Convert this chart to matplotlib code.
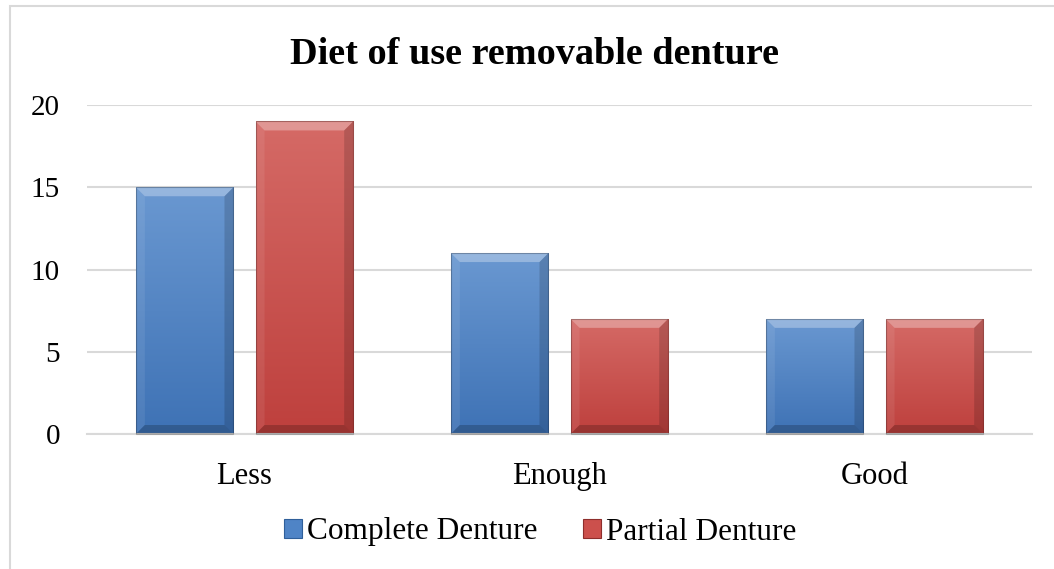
import matplotlib
matplotlib.use('Agg')
import matplotlib.pyplot as plt
import numpy as np
from matplotlib.patches import Polygon, Rectangle
from matplotlib.transforms import IdentityTransform
from matplotlib.colors import LinearSegmentedColormap

categories = ['Less', 'Enough', 'Good']
complete_denture = [15, 11, 7]
partial_denture = [19, 7, 7]
series_names = ['Complete Denture', 'Partial Denture']
y_ticks = [0, 5, 10, 15, 20]

plt.rcParams['font.family'] = ['Liberation Serif', 'DejaVu Serif']

blue_top, blue_bot = '#6a98d1', '#3e72b5'
red_top, red_bot = '#d56a66', '#be403d'

fig = plt.figure(figsize=(10.54, 5.69), dpi=100)
ax = fig.add_axes([87 / 1054, 1 - 434 / 569, (1032 - 87) / 1054, (434 - 105) / 569])

# chart frame (only left/top edges are inside the picture)
fig.patches.append(Rectangle((10 / 1054, -0.1), 1.2, 1.1 - 6 / 569, transform=fig.transFigure,
                             fill=False, edgecolor='#d9d9d9', linewidth=1.5, zorder=0))

x = np.arange(len(categories))
width = 0.31
offset = 0.19

bars_c = ax.bar(x - offset, complete_denture, width, color=blue_bot, edgecolor='none', zorder=2)
bars_p = ax.bar(x + offset, partial_denture, width, color=red_bot, edgecolor='none', zorder=2)

ax.set_xlim(-0.5, 2.5)
ax.set_ylim(0, 20)
ax.set_yticks(y_ticks)
ax.set_xticks(x)
ax.set_xticklabels(categories)
ax.tick_params(axis='both', length=0)
ax.tick_params(axis='y', pad=19.5, labelsize=21)
ax.tick_params(axis='x', pad=20, labelsize=22)
ax.grid(axis='y', color='#d9d9d9', linewidth=1.5, zorder=0)
ax.set_axisbelow(True)
for s in ['left', 'right', 'top']:
    ax.spines[s].set_visible(False)
ax.spines['bottom'].set_color('#d9d9d9')
ax.spines['bottom'].set_linewidth(1.5)


def bevel(bar, top, bot, b=9):
    # vertical gradient fill clipped to the bar
    cmap = LinearSegmentedColormap.from_list('g', [bot, top])
    x0, y0 = bar.get_x(), bar.get_y()
    w, h = bar.get_width(), bar.get_height()
    grad = np.linspace(0, 1, 256).reshape(-1, 1)
    im = ax.imshow(grad, cmap=cmap, aspect='auto', origin='lower',
                   extent=[x0, x0 + w, y0, y0 + h], zorder=2.5)
    im.set_clip_path(bar)
    # bevel edges in pixel space
    (px0, py0), (px1, py1) = ax.transData.transform([(x0, y0), (x0 + w, y0 + h)])
    faces = [
        ([(px0, py1), (px1, py1), (px1 - b, py1 - b), (px0 + b, py1 - b)], 'white', 0.3),
        ([(px0, py0), (px0, py1), (px0 + b, py1 - b), (px0 + b, py0 + b)], 'white', 0.08),
        ([(px1, py0), (px1, py1), (px1 - b, py1 - b), (px1 - b, py0 + b)], 'black', 0.15),
        ([(px0, py0), (px1, py0), (px1 - b, py0 + b), (px0 + b, py0 + b)], 'black', 0.2),
    ]
    for pts, c, a in faces:
        fig.patches.append(Polygon(pts, closed=True, transform=IdentityTransform(),
                                   facecolor=c, alpha=a, edgecolor='none', zorder=3))
    fig.patches.append(Polygon([(px0, py0), (px0, py1), (px1, py1), (px1, py0)], closed=True,
                               transform=IdentityTransform(), fill=False,
                               edgecolor='black', alpha=0.25, linewidth=0.8, zorder=3))


for bar in bars_c:
    bevel(bar, blue_top, blue_bot)
for bar in bars_p:
    bevel(bar, red_top, red_bot)

ax.set_xlim(-0.5, 2.5)
ax.set_ylim(0, 20)

fig.text(535 / 1054, 1 - 55 / 569, 'Diet of use removable denture', ha='center', va='center',
         fontsize=27.5, fontweight='bold')

handles = [Rectangle((0, 0), 1, 1, facecolor='#4f84c6', edgecolor='#2f5f9a', linewidth=0.8),
           Rectangle((0, 0), 1, 1, facecolor='#cc504c', edgecolor='#8e2e2c', linewidth=0.8)]
fig.legend(handles, series_names, loc='center', bbox_to_anchor=(540 / 1054, 1 - 532 / 569),
           ncol=2, frameon=False, fontsize=22.5, handlelength=0.58, handleheight=0.58,
           handletextpad=0.16, columnspacing=1.45, borderpad=0.2)

fig.savefig('out.png', dpi=100)
